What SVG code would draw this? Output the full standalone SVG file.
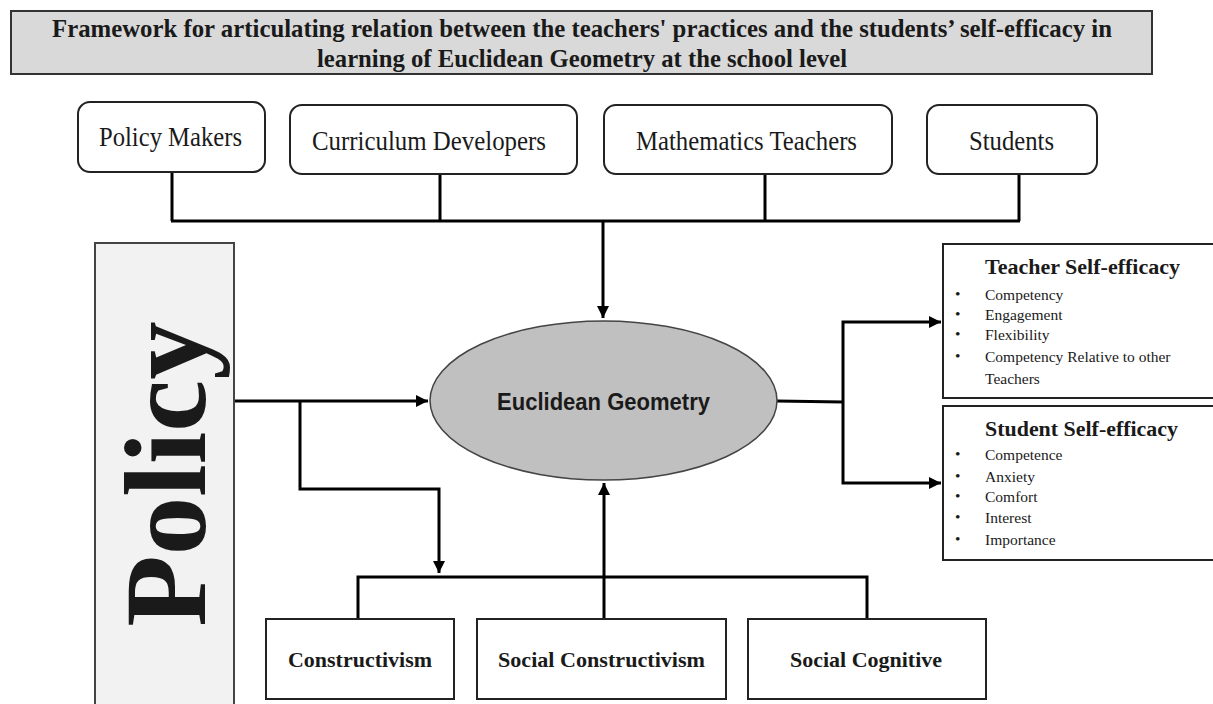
<svg xmlns="http://www.w3.org/2000/svg" width="1213" height="704" viewBox="0 0 1213 704">
<defs>
<style>
.serif{font-family:"Liberation Serif","Times New Roman",serif;fill:#1a1a1a}
.bold{font-weight:bold}
.box{fill:#fff;stroke:#222;stroke-width:2}
.conn{fill:none;stroke:#000;stroke-width:3}
.item{font-size:15.5px}
.top{font-size:27px}
</style>
<marker id="arr" viewBox="0 0 10 10" refX="10" refY="5" markerWidth="4" markerHeight="4" orient="auto" markerUnits="strokeWidth">
<path d="M0,0 L10,5 L0,10 z" fill="#000"/>
</marker>
</defs>
<rect width="1213" height="704" fill="#fff"/>

<g id="title">
<rect x="11" y="11" width="1141" height="63" fill="#d9d9d9" stroke="#333" stroke-width="2"/>
<text class="serif bold" x="582" y="37" font-size="26" text-anchor="middle" textLength="1060" lengthAdjust="spacingAndGlyphs">Framework for articulating relation between the teachers' practices and the students’ self-efficacy in</text>
<text class="serif bold" x="582" y="67" font-size="26" text-anchor="middle" textLength="530" lengthAdjust="spacingAndGlyphs">learning of Euclidean Geometry at the school level</text>
</g>

<g id="connectors">
<path class="conn" d="M172,172 V221 M440,174 V221 M765,174 V221 M1019,174 V221 M171,221 H1020"/>
<path class="conn" d="M603,221 V318" marker-end="url(#arr)"/>
<path class="conn" d="M234,401 H428" marker-end="url(#arr)"/>
<path class="conn" d="M300,401 V489 H439 V573" marker-end="url(#arr)"/>
<path class="conn" d="M358,619 V577 H867 V619"/>
<path class="conn" d="M604,619 V483" marker-end="url(#arr)"/>
<path class="conn" d="M777,401 L843,402"/>
<path class="conn" d="M843,402 V322 H941" marker-end="url(#arr)"/>
<path class="conn" d="M843,402 V483 H941" marker-end="url(#arr)"/>
</g>

<g id="policy-makers">
<rect class="box" x="78" y="102" width="187" height="70" rx="12"/>
<text class="serif top" x="170.5" y="146" text-anchor="middle" textLength="143" lengthAdjust="spacingAndGlyphs">Policy Makers</text>
</g>
<g id="curriculum-developers">
<rect class="box" x="290" y="105" width="287" height="69" rx="12"/>
<text class="serif top" x="429" y="150" text-anchor="middle" textLength="234" lengthAdjust="spacingAndGlyphs">Curriculum Developers</text>
</g>
<g id="mathematics-teachers">
<rect class="box" x="604" y="105" width="288" height="69" rx="12"/>
<text class="serif top" x="746.5" y="150" text-anchor="middle" textLength="221" lengthAdjust="spacingAndGlyphs">Mathematics Teachers</text>
</g>
<g id="students">
<rect class="box" x="927" y="105" width="170" height="69" rx="12"/>
<text class="serif top" x="1011.5" y="150" text-anchor="middle" textLength="85" lengthAdjust="spacingAndGlyphs">Students</text>
</g>

<g id="policy">
<rect x="95" y="243" width="139" height="470" fill="#f2f2f2" stroke="#444" stroke-width="2"/>
<text class="serif bold" transform="translate(205,474) rotate(-90)" font-size="117" text-anchor="middle" fill="#000">Policy</text>
</g>

<g id="euclidean-geometry">
<ellipse cx="603.5" cy="400.5" rx="173.5" ry="79.5" fill="#c0c0c0" stroke="#444" stroke-width="1.5"/>
<text x="603.5" y="410" font-family="'Liberation Sans',Arial,sans-serif" font-weight="bold" font-size="23" fill="#1a1a1a" text-anchor="middle" textLength="213" lengthAdjust="spacingAndGlyphs">Euclidean Geometry</text>
</g>

<g id="teacher-self-efficacy">
<rect class="box" x="943" y="244" width="278" height="154"/>
<text class="serif bold" x="985" y="274" font-size="20" textLength="195" lengthAdjust="spacingAndGlyphs">Teacher Self-efficacy</text>
<g class="serif item">
<text x="955" y="299">•</text><text x="985" y="300">Competency</text>
<text x="955" y="319">•</text><text x="985" y="320">Engagement</text>
<text x="955" y="339">•</text><text x="985" y="340">Flexibility</text>
<text x="955" y="361">•</text><text x="985" y="362">Competency Relative to other</text>
<text x="985" y="384">Teachers</text>
</g>
</g>

<g id="student-self-efficacy">
<rect class="box" x="943" y="406" width="278" height="154"/>
<text class="serif bold" x="985" y="436" font-size="20" textLength="193" lengthAdjust="spacingAndGlyphs">Student Self-efficacy</text>
<g class="serif item">
<text x="955" y="459">•</text><text x="985" y="460">Competence</text>
<text x="955" y="481">•</text><text x="985" y="482">Anxiety</text>
<text x="955" y="501">•</text><text x="985" y="502">Comfort</text>
<text x="955" y="522">•</text><text x="985" y="523">Interest</text>
<text x="955" y="544">•</text><text x="985" y="545">Importance</text>
</g>
</g>

<g id="constructivism">
<rect class="box" x="266" y="619" width="188" height="80"/>
<text class="serif bold" x="360" y="667" font-size="21" text-anchor="middle" textLength="144" lengthAdjust="spacingAndGlyphs">Constructivism</text>
</g>
<g id="social-constructivism">
<rect class="box" x="477" y="619" width="249" height="80"/>
<text class="serif bold" x="601.5" y="667" font-size="21" text-anchor="middle" textLength="207" lengthAdjust="spacingAndGlyphs">Social Constructivism</text>
</g>
<g id="social-cognitive">
<rect class="box" x="748" y="619" width="238" height="80"/>
<text class="serif bold" x="866" y="667" font-size="21" text-anchor="middle" textLength="152" lengthAdjust="spacingAndGlyphs">Social Cognitive</text>
</g>
</svg>
